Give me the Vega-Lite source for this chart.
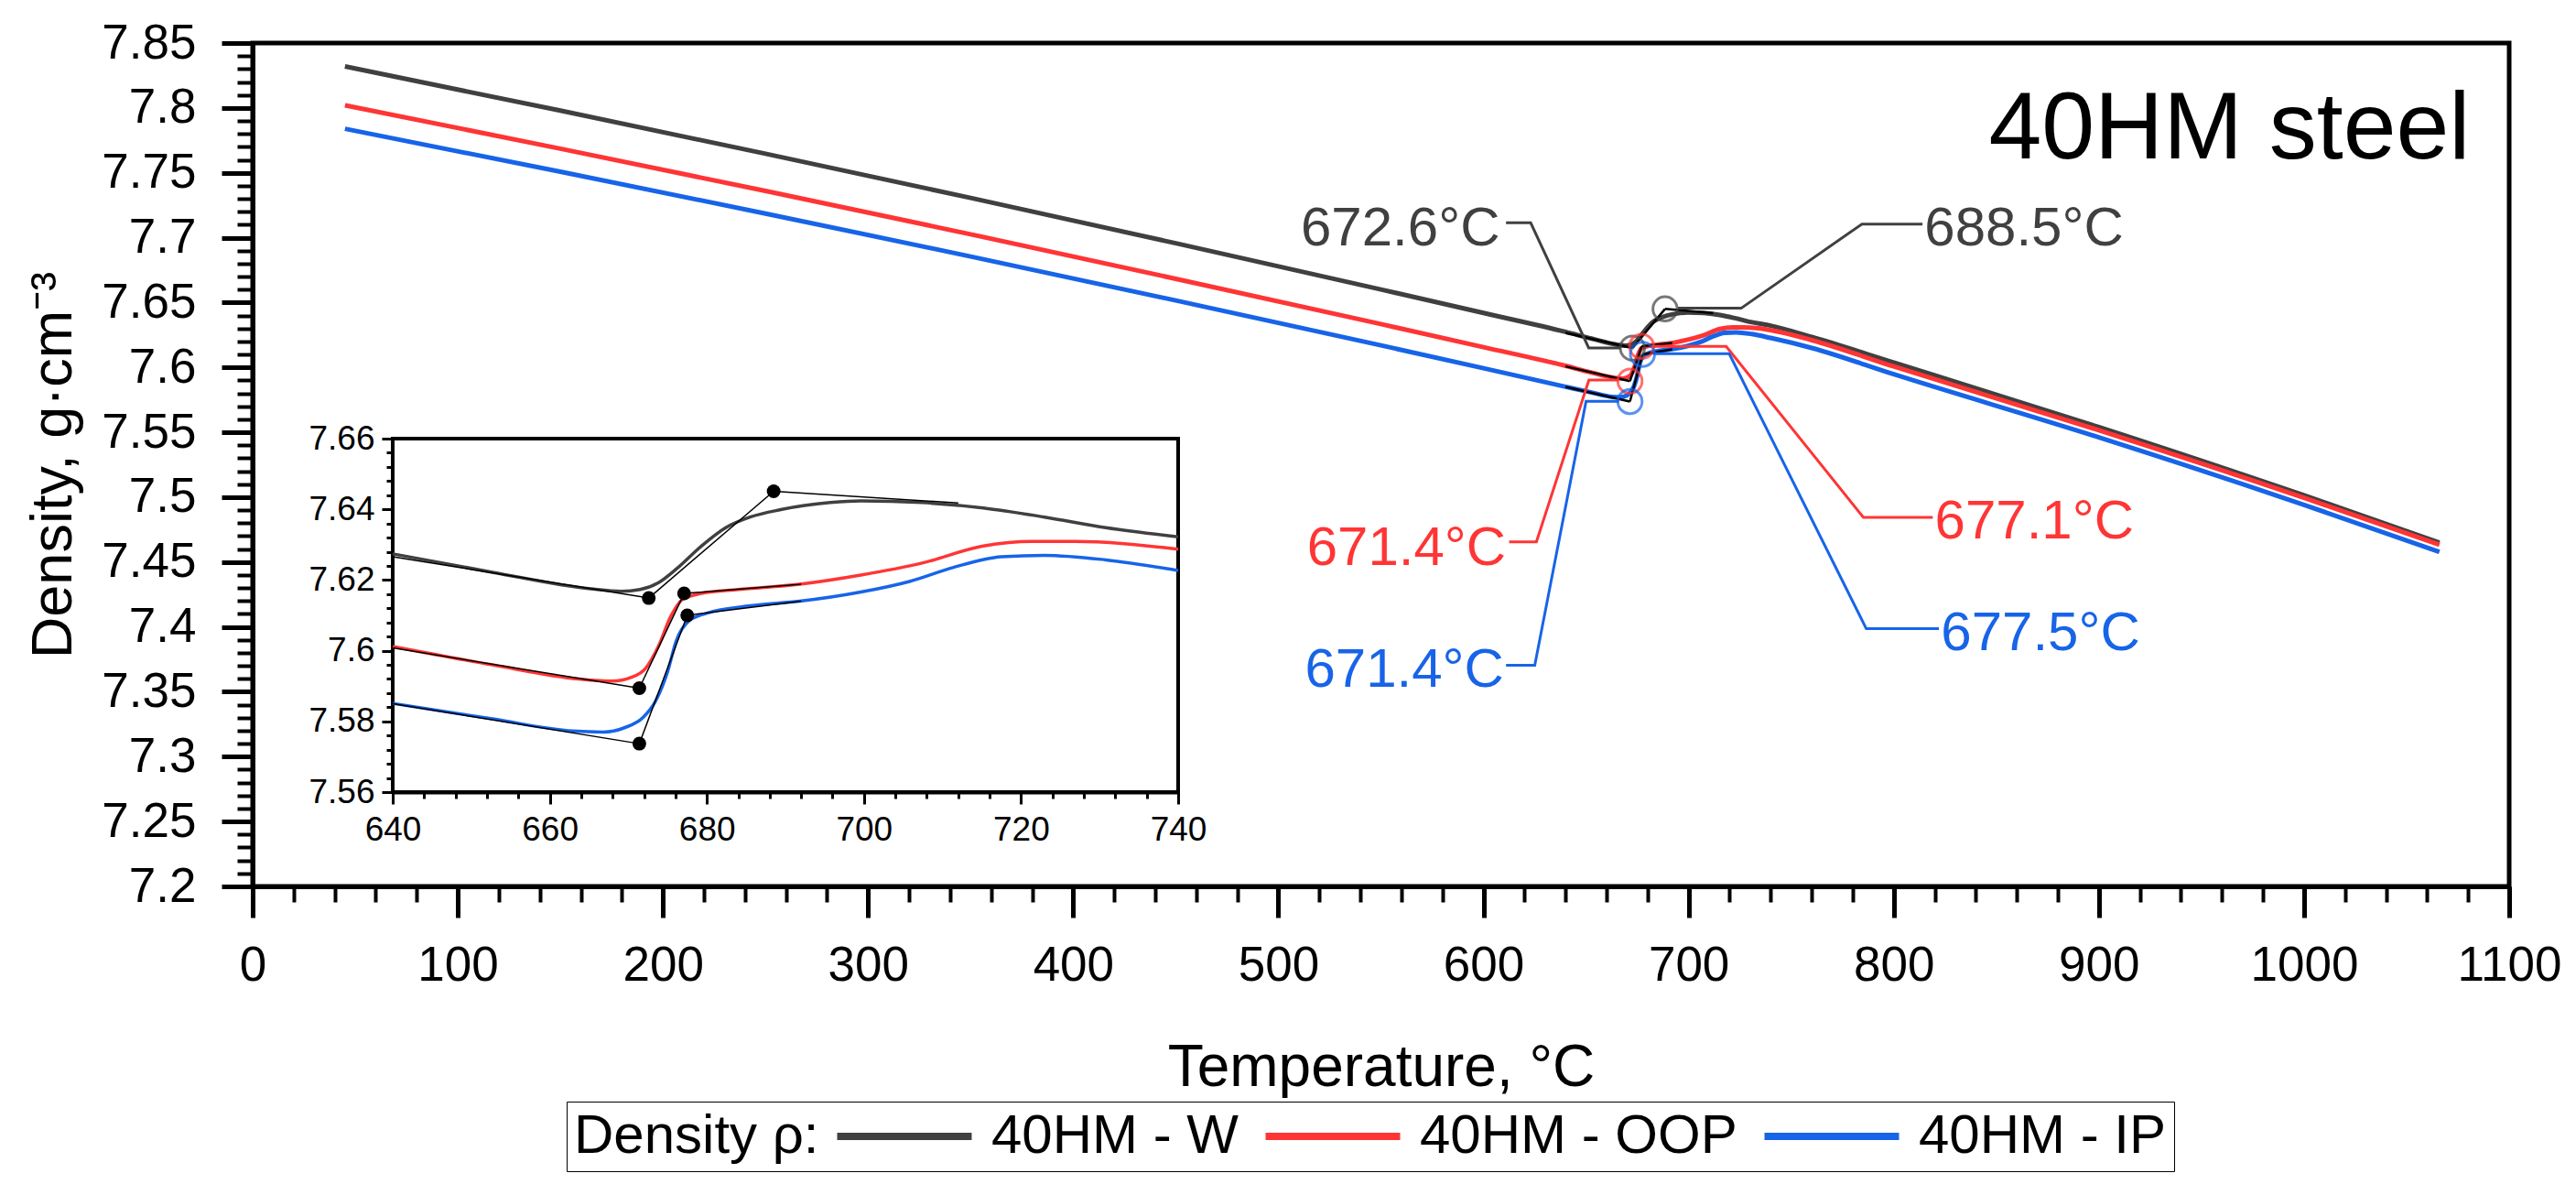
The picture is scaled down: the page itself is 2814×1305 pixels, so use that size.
{
  "$schema": "https://vega.github.io/schema/vega-lite/v6.json",
  "description": "40HM steel density vs temperature with inset",
  "width": 2465,
  "height": 921,
  "autosize": "none",
  "padding": {"left": 276, "top": 47, "right": 73, "bottom": 337},
  "background": "white",
  "datasets": {
    "curves": [
      {"s": "40HM - W", "T": 45, "D": 7.832},
      {"s": "40HM - W", "T": 150, "D": 7.7979},
      {"s": "40HM - W", "T": 250, "D": 7.7647},
      {"s": "40HM - W", "T": 350, "D": 7.7306},
      {"s": "40HM - W", "T": 450, "D": 7.6957},
      {"s": "40HM - W", "T": 550, "D": 7.6601},
      {"s": "40HM - W", "T": 600, "D": 7.642},
      {"s": "40HM - W", "T": 640, "D": 7.6274},
      {"s": "40HM - W", "T": 652.7, "D": 7.6222},
      {"s": "40HM - W", "T": 665.2, "D": 7.6175},
      {"s": "40HM - W", "T": 669.1, "D": 7.6168},
      {"s": "40HM - W", "T": 671.5, "D": 7.6173},
      {"s": "40HM - W", "T": 673.8, "D": 7.6192},
      {"s": "40HM - W", "T": 676.1, "D": 7.6231},
      {"s": "40HM - W", "T": 679.3, "D": 7.6296},
      {"s": "40HM - W", "T": 682.4, "D": 7.6348},
      {"s": "40HM - W", "T": 685.5, "D": 7.6378},
      {"s": "40HM - W", "T": 689.4, "D": 7.6399},
      {"s": "40HM - W", "T": 695.7, "D": 7.6419},
      {"s": "40HM - W", "T": 699.6, "D": 7.6424},
      {"s": "40HM - W", "T": 707.4, "D": 7.6419},
      {"s": "40HM - W", "T": 715.2, "D": 7.6404},
      {"s": "40HM - W", "T": 723.0, "D": 7.6378},
      {"s": "40HM - W", "T": 730.8, "D": 7.6348},
      {"s": "40HM - W", "T": 740, "D": 7.6322},
      {"s": "40HM - W", "T": 760, "D": 7.6235},
      {"s": "40HM - W", "T": 800, "D": 7.6038},
      {"s": "40HM - W", "T": 900, "D": 7.554},
      {"s": "40HM - W", "T": 1000, "D": 7.5014},
      {"s": "40HM - W", "T": 1066, "D": 7.4649},
      {"s": "40HM - OOP", "T": 45, "D": 7.802},
      {"s": "40HM - OOP", "T": 150, "D": 7.7686},
      {"s": "40HM - OOP", "T": 250, "D": 7.736},
      {"s": "40HM - OOP", "T": 350, "D": 7.7026},
      {"s": "40HM - OOP", "T": 450, "D": 7.6683},
      {"s": "40HM - OOP", "T": 550, "D": 7.6334},
      {"s": "40HM - OOP", "T": 600, "D": 7.6156},
      {"s": "40HM - OOP", "T": 640, "D": 7.6012},
      {"s": "40HM - OOP", "T": 652.7, "D": 7.596},
      {"s": "40HM - OOP", "T": 663.7, "D": 7.592},
      {"s": "40HM - OOP", "T": 668, "D": 7.5914},
      {"s": "40HM - OOP", "T": 670.3, "D": 7.5924},
      {"s": "40HM - OOP", "T": 672.2, "D": 7.595},
      {"s": "40HM - OOP", "T": 673.8, "D": 7.6011},
      {"s": "40HM - OOP", "T": 675.4, "D": 7.6097},
      {"s": "40HM - OOP", "T": 676.9, "D": 7.6145},
      {"s": "40HM - OOP", "T": 679.3, "D": 7.6162},
      {"s": "40HM - OOP", "T": 684, "D": 7.6173},
      {"s": "40HM - OOP", "T": 691.8, "D": 7.6188},
      {"s": "40HM - OOP", "T": 699.6, "D": 7.6214},
      {"s": "40HM - OOP", "T": 707.4, "D": 7.6248},
      {"s": "40HM - OOP", "T": 715.2, "D": 7.6296},
      {"s": "40HM - OOP", "T": 721.4, "D": 7.6309},
      {"s": "40HM - OOP", "T": 726.9, "D": 7.6309},
      {"s": "40HM - OOP", "T": 733.1, "D": 7.6303},
      {"s": "40HM - OOP", "T": 740, "D": 7.6287},
      {"s": "40HM - OOP", "T": 760, "D": 7.621},
      {"s": "40HM - OOP", "T": 800, "D": 7.6007},
      {"s": "40HM - OOP", "T": 900, "D": 7.5516},
      {"s": "40HM - OOP", "T": 1000, "D": 7.4995},
      {"s": "40HM - OOP", "T": 1066, "D": 7.4633},
      {"s": "40HM - IP", "T": 45, "D": 7.7839},
      {"s": "40HM - IP", "T": 150, "D": 7.7508},
      {"s": "40HM - IP", "T": 250, "D": 7.7186},
      {"s": "40HM - IP", "T": 350, "D": 7.6855},
      {"s": "40HM - IP", "T": 450, "D": 7.6516},
      {"s": "40HM - IP", "T": 550, "D": 7.617},
      {"s": "40HM - IP", "T": 600, "D": 7.5994},
      {"s": "40HM - IP", "T": 640, "D": 7.5851},
      {"s": "40HM - IP", "T": 652.7, "D": 7.5807},
      {"s": "40HM - IP", "T": 662.9, "D": 7.5773},
      {"s": "40HM - IP", "T": 666.8, "D": 7.577},
      {"s": "40HM - IP", "T": 669.5, "D": 7.5782},
      {"s": "40HM - IP", "T": 671.9, "D": 7.5812},
      {"s": "40HM - IP", "T": 673.4, "D": 7.5855},
      {"s": "40HM - IP", "T": 675, "D": 7.5941},
      {"s": "40HM - IP", "T": 676.1, "D": 7.6028},
      {"s": "40HM - IP", "T": 677.7, "D": 7.6084},
      {"s": "40HM - IP", "T": 680, "D": 7.6106},
      {"s": "40HM - IP", "T": 685.5, "D": 7.6127},
      {"s": "40HM - IP", "T": 691.8, "D": 7.614},
      {"s": "40HM - IP", "T": 699.6, "D": 7.6166},
      {"s": "40HM - IP", "T": 705.8, "D": 7.6196},
      {"s": "40HM - IP", "T": 711.3, "D": 7.6235},
      {"s": "40HM - IP", "T": 717.5, "D": 7.6266},
      {"s": "40HM - IP", "T": 723, "D": 7.627},
      {"s": "40HM - IP", "T": 730.8, "D": 7.6257},
      {"s": "40HM - IP", "T": 740, "D": 7.6227},
      {"s": "40HM - IP", "T": 760, "D": 7.615},
      {"s": "40HM - IP", "T": 800, "D": 7.5947},
      {"s": "40HM - IP", "T": 900, "D": 7.5461},
      {"s": "40HM - IP", "T": 1000, "D": 7.4941},
      {"s": "40HM - IP", "T": 1066, "D": 7.4578}
    ],
    "tangents": [
      {"g": "WL", "o": 1, "T": 640, "D": 7.6266},
      {"g": "WL", "o": 2, "T": 672.6, "D": 7.6149},
      {"g": "WM", "o": 1, "T": 672.6, "D": 7.6149},
      {"g": "WM", "o": 2, "T": 688.5, "D": 7.6451},
      {"g": "WR", "o": 1, "T": 688.5, "D": 7.6451},
      {"g": "WR", "o": 2, "T": 712, "D": 7.6418},
      {"g": "RL", "o": 1, "T": 640, "D": 7.6008},
      {"g": "RL", "o": 2, "T": 671.4, "D": 7.5894},
      {"g": "RM", "o": 1, "T": 671.4, "D": 7.5894},
      {"g": "RM", "o": 2, "T": 677.1, "D": 7.6162},
      {"g": "RR", "o": 1, "T": 677.1, "D": 7.6162},
      {"g": "RR", "o": 2, "T": 692, "D": 7.6188},
      {"g": "BL", "o": 1, "T": 640, "D": 7.585},
      {"g": "BL", "o": 2, "T": 671.4, "D": 7.5737},
      {"g": "BM", "o": 1, "T": 671.4, "D": 7.5737},
      {"g": "BM", "o": 2, "T": 677.5, "D": 7.61},
      {"g": "BR", "o": 1, "T": 677.5, "D": 7.61},
      {"g": "BR", "o": 2, "T": 692, "D": 7.614}
    ],
    "points": [
      {"s": "40HM - W", "T": 672.6, "D": 7.6149},
      {"s": "40HM - W", "T": 688.5, "D": 7.6451},
      {"s": "40HM - OOP", "T": 671.4, "D": 7.5894},
      {"s": "40HM - OOP", "T": 677.1, "D": 7.6162},
      {"s": "40HM - IP", "T": 671.4, "D": 7.5737},
      {"s": "40HM - IP", "T": 677.5, "D": 7.61}
    ],
    "leaders": [
      {"g": "G1", "s": "40HM - W", "o": 1, "T": 611, "D": 7.7115},
      {"g": "G1", "s": "40HM - W", "o": 2, "T": 623, "D": 7.7115},
      {"g": "G1", "s": "40HM - W", "o": 3, "T": 651.3, "D": 7.615},
      {"g": "G1", "s": "40HM - W", "o": 4, "T": 667, "D": 7.615},
      {"g": "G2", "s": "40HM - W", "o": 1, "T": 694.8, "D": 7.6456},
      {"g": "G2", "s": "40HM - W", "o": 2, "T": 725.6, "D": 7.6456},
      {"g": "G2", "s": "40HM - W", "o": 3, "T": 784.5, "D": 7.7105},
      {"g": "G2", "s": "40HM - W", "o": 4, "T": 814, "D": 7.7105},
      {"g": "R1", "s": "40HM - OOP", "o": 1, "T": 612.5, "D": 7.4656},
      {"g": "R1", "s": "40HM - OOP", "o": 2, "T": 625.8, "D": 7.4656},
      {"g": "R1", "s": "40HM - OOP", "o": 3, "T": 651.4, "D": 7.5903},
      {"g": "R1", "s": "40HM - OOP", "o": 4, "T": 666, "D": 7.5903},
      {"g": "B1", "s": "40HM - IP", "o": 1, "T": 611, "D": 7.3704},
      {"g": "B1", "s": "40HM - IP", "o": 2, "T": 625, "D": 7.3704},
      {"g": "B1", "s": "40HM - IP", "o": 3, "T": 650, "D": 7.5739},
      {"g": "B1", "s": "40HM - IP", "o": 4, "T": 666, "D": 7.5739},
      {"g": "R2", "s": "40HM - OOP", "o": 1, "T": 682, "D": 7.6162},
      {"g": "R2", "s": "40HM - OOP", "o": 2, "T": 718.3, "D": 7.6162},
      {"g": "R2", "s": "40HM - OOP", "o": 3, "T": 785.2, "D": 7.4844},
      {"g": "R2", "s": "40HM - OOP", "o": 4, "T": 819, "D": 7.4844},
      {"g": "B2", "s": "40HM - IP", "o": 1, "T": 683, "D": 7.6105},
      {"g": "B2", "s": "40HM - IP", "o": 2, "T": 719.8, "D": 7.6105},
      {"g": "B2", "s": "40HM - IP", "o": 3, "T": 786.6, "D": 7.3986},
      {"g": "B2", "s": "40HM - IP", "o": 4, "T": 822, "D": 7.3986}
    ],
    "labels": [
      {"s": "40HM - W", "side": "left", "T": 608, "D": 7.694, "text": "672.6°C"},
      {"s": "40HM - W", "side": "right", "T": 815, "D": 7.694, "text": "688.5°C"},
      {"s": "40HM - OOP", "side": "left", "T": 611, "D": 7.4477, "text": "671.4°C"},
      {"s": "40HM - IP", "side": "left", "T": 610, "D": 7.3539, "text": "671.4°C"},
      {"s": "40HM - OOP", "side": "right", "T": 820, "D": 7.4682, "text": "677.1°C"},
      {"s": "40HM - IP", "side": "right", "T": 823, "D": 7.3821, "text": "677.5°C"}
    ],
    "heading": [{"T": 1081, "D": 7.761, "text": "40HM steel"}],
    "frame": [{"T": 640, "T2": 740, "D": 7.56, "D2": 7.66}]
  },
  "layer": [
    {
      "data": {"name": "points"},
      "mark": {"type": "point", "opacity": 0},
      "encoding": {
        "x": {
          "field": "T", "type": "quantitative",
          "scale": {"domain": [0, 1100], "nice": false, "zero": false},
          "axis": {
            "orient": "bottom", "title": null, "labels": false, "domain": false,
            "tickSize": 17, "tickWidth": 4, "tickColor": "black",
            "values": [20, 40, 60, 80, 120, 140, 160, 180, 220, 240, 260, 280, 320, 340, 360, 380, 420, 440, 460, 480, 520, 540, 560, 580, 620, 640, 660, 680, 720, 740, 760, 780, 820, 840, 860, 880, 920, 940, 960, 980, 1020, 1040, 1060, 1080]
          }
        },
        "y": {
          "field": "D", "type": "quantitative",
          "scale": {"domain": [7.2, 7.85], "nice": false, "zero": false},
          "axis": {
            "orient": "left", "title": null, "labels": false, "domain": false,
            "tickSize": 17, "tickWidth": 4, "tickColor": "black",
            "values": [7.21, 7.22, 7.23, 7.24, 7.26, 7.27, 7.28, 7.29, 7.31, 7.32, 7.33, 7.34, 7.36, 7.37, 7.38, 7.39, 7.41, 7.42, 7.43, 7.44, 7.46, 7.47, 7.48, 7.49, 7.51, 7.52, 7.53, 7.54, 7.56, 7.57, 7.58, 7.59, 7.61, 7.62, 7.63, 7.64, 7.66, 7.67, 7.68, 7.69, 7.71, 7.72, 7.73, 7.74, 7.76, 7.77, 7.78, 7.79, 7.81, 7.82, 7.83, 7.84]
          }
        }
      }
    },
    {
      "encoding": {
        "x": {
          "field": "T", "type": "quantitative",
          "scale": {"domain": [0, 1100], "nice": false, "zero": false},
          "axis": {
            "orient": "bottom", "title": "Temperature, °C",
            "values": [0, 100, 200, 300, 400, 500, 600, 700, 800, 900, 1000, 1100],
            "format": "d", "tickSize": 34, "tickWidth": 5, "domainWidth": 5,
            "labelFontSize": 53, "labelPadding": 26, "titleFontSize": 64, "titlePadding": 53
          }
        },
        "y": {
          "field": "D", "type": "quantitative",
          "scale": {"domain": [7.2, 7.85], "nice": false, "zero": false},
          "axis": {
            "orient": "left", "title": "Density, g·cm⁻³",
            "values": [7.2, 7.25, 7.3, 7.35, 7.4, 7.45, 7.5, 7.55, 7.6, 7.65, 7.7, 7.75, 7.8, 7.85],
            "format": "~g", "tickSize": 34, "tickWidth": 5, "domainWidth": 5,
            "labelFontSize": 53, "labelPadding": 28, "titleFontSize": 63, "titlePadding": 20
          }
        }
      },
      "layer": [
        {
          "data": {"name": "curves"},
          "mark": {"type": "line", "strokeWidth": 5, "interpolate": "monotone"},
          "encoding": {
            "color": {
              "field": "s", "type": "nominal",
              "scale": {"domain": ["40HM - W", "40HM - OOP", "40HM - IP"], "range": ["#404040", "#ff3535", "#1764e8"]},
              "legend": {
                "orient": "none", "legendX": 343, "legendY": 1156, "direction": "horizontal",
                "title": "Density ρ:", "titleOrient": "left", "titleFontSize": 60, "titleFontWeight": "normal",
                "titleColor": "black", "titlePadding": 4, "titleLimit": 600, "titleBaseline": "middle",
                "labelFontSize": 60, "labelColor": "black", "labelLimit": 600,
                "labelOffset": 65, "columnPadding": 13,
                "symbolType": "M-5,0L5,0", "symbolSize": 864, "symbolOffset": 59,
                "symbolStrokeWidth": 8, "strokeColor": "black", "padding": 8
              }
            }
          }
        },
        {
          "data": {"name": "tangents"},
          "mark": {"type": "line", "strokeWidth": 2.5, "color": "black"},
          "encoding": {"detail": {"field": "g"}, "order": {"field": "o"}}
        },
        {
          "data": {"name": "points"},
          "mark": {"type": "point", "filled": false, "size": 700, "strokeWidth": 3},
          "encoding": {"color": {"field": "s", "type": "nominal", "legend": null}}
        },
        {
          "data": {"name": "leaders"},
          "mark": {"type": "line", "strokeWidth": 3},
          "encoding": {
            "color": {"field": "s", "type": "nominal", "legend": null},
            "detail": {"field": "g"},
            "order": {"field": "o"}
          }
        },
        {
          "data": {"name": "labels"},
          "transform": [{"filter": "datum.side === 'left'"}],
          "mark": {"type": "text", "fontSize": 60, "align": "right", "baseline": "alphabetic"},
          "encoding": {
            "text": {"field": "text"},
            "color": {"field": "s", "type": "nominal", "legend": null}
          }
        },
        {
          "data": {"name": "labels"},
          "transform": [{"filter": "datum.side === 'right'"}],
          "mark": {"type": "text", "fontSize": 60, "align": "left", "baseline": "alphabetic"},
          "encoding": {
            "text": {"field": "text"},
            "color": {"field": "s", "type": "nominal", "legend": null}
          }
        },
        {
          "data": {"name": "heading"},
          "mark": {"type": "text", "fontSize": 104, "align": "right", "baseline": "alphabetic", "color": "black"},
          "encoding": {"text": {"field": "text"}}
        }
      ]
    },
    {
      "data": {"name": "points"},
      "mark": {"type": "point", "opacity": 0},
      "encoding": {
        "x": {
          "field": "T", "type": "quantitative",
          "scale": {"domain": [640, 740], "range": [153, 1011], "nice": false, "zero": false},
          "axis": {
            "orient": "bottom", "offset": -103, "title": null, "labels": false, "domain": false,
            "tickSize": 7, "tickWidth": 3, "tickColor": "black",
            "values": [644, 648, 652, 656, 664, 668, 672, 676, 684, 688, 692, 696, 704, 708, 712, 716, 724, 728, 732, 736]
          }
        },
        "y": {
          "field": "D", "type": "quantitative",
          "scale": {"domain": [7.56, 7.66], "range": [818, 432], "nice": false, "zero": false},
          "axis": {
            "orient": "left", "offset": -153, "title": null, "labels": false, "domain": false,
            "tickSize": 7, "tickWidth": 3, "tickColor": "black",
            "values": [7.564, 7.568, 7.572, 7.576, 7.584, 7.588, 7.592, 7.596, 7.604, 7.608, 7.612, 7.616, 7.624, 7.628, 7.632, 7.636, 7.644, 7.648, 7.652, 7.656]
          }
        }
      }
    },
    {
      "encoding": {
        "x": {
          "field": "T", "type": "quantitative",
          "scale": {"domain": [640, 740], "range": [153, 1011], "nice": false, "zero": false},
          "axis": {
            "orient": "bottom", "offset": -103, "title": null,
            "values": [640, 660, 680, 700, 720, 740], "format": "d",
            "tickSize": 13, "tickWidth": 3, "domainWidth": 4, "labelFontSize": 37, "labelPadding": 10
          }
        },
        "y": {
          "field": "D", "type": "quantitative",
          "scale": {"domain": [7.56, 7.66], "range": [818, 432], "nice": false, "zero": false},
          "axis": {
            "orient": "left", "offset": -153, "title": null,
            "values": [7.56, 7.58, 7.6, 7.62, 7.64, 7.66], "format": "~g",
            "tickSize": 12, "tickWidth": 3, "domainWidth": 4, "labelFontSize": 37, "labelPadding": 8
          }
        }
      },
      "layer": [
        {
          "data": {"name": "frame"},
          "mark": {"type": "rect", "fill": "white", "stroke": "black", "strokeWidth": 4},
          "encoding": {
            "x2": {"field": "T2"},
            "y2": {"field": "D2"}
          }
        },
        {
          "data": {"name": "curves"},
          "transform": [{"filter": "datum.T >= 640 && datum.T <= 740"}],
          "mark": {"type": "line", "strokeWidth": 3.5, "interpolate": "monotone"},
          "encoding": {
            "color": {
              "field": "s", "type": "nominal",
              "scale": {"domain": ["40HM - W", "40HM - OOP", "40HM - IP"], "range": ["#404040", "#ff3535", "#1764e8"]},
              "legend": null
            }
          }
        },
        {
          "data": {"name": "tangents"},
          "mark": {"type": "line", "strokeWidth": 1.5, "color": "black"},
          "encoding": {"detail": {"field": "g"}, "order": {"field": "o"}}
        },
        {
          "data": {"name": "points"},
          "mark": {"type": "point", "filled": true, "size": 225, "color": "black", "opacity": 1}
        }
      ]
    }
  ],
  "resolve": {"scale": {"x": "independent", "y": "independent", "color": "independent"}},
  "config": {
    "font": "Liberation Sans",
    "view": {"stroke": "black", "strokeWidth": 5},
    "axis": {
      "grid": false,
      "labelFlush": false,
      "domainColor": "black",
      "tickColor": "black",
      "labelColor": "black",
      "titleColor": "black",
      "titleFontWeight": "normal",
      "labelFont": "Liberation Sans",
      "titleFont": "Liberation Sans"
    },
    "legend": {"labelFont": "Liberation Sans", "titleFont": "Liberation Sans"}
  }
}
